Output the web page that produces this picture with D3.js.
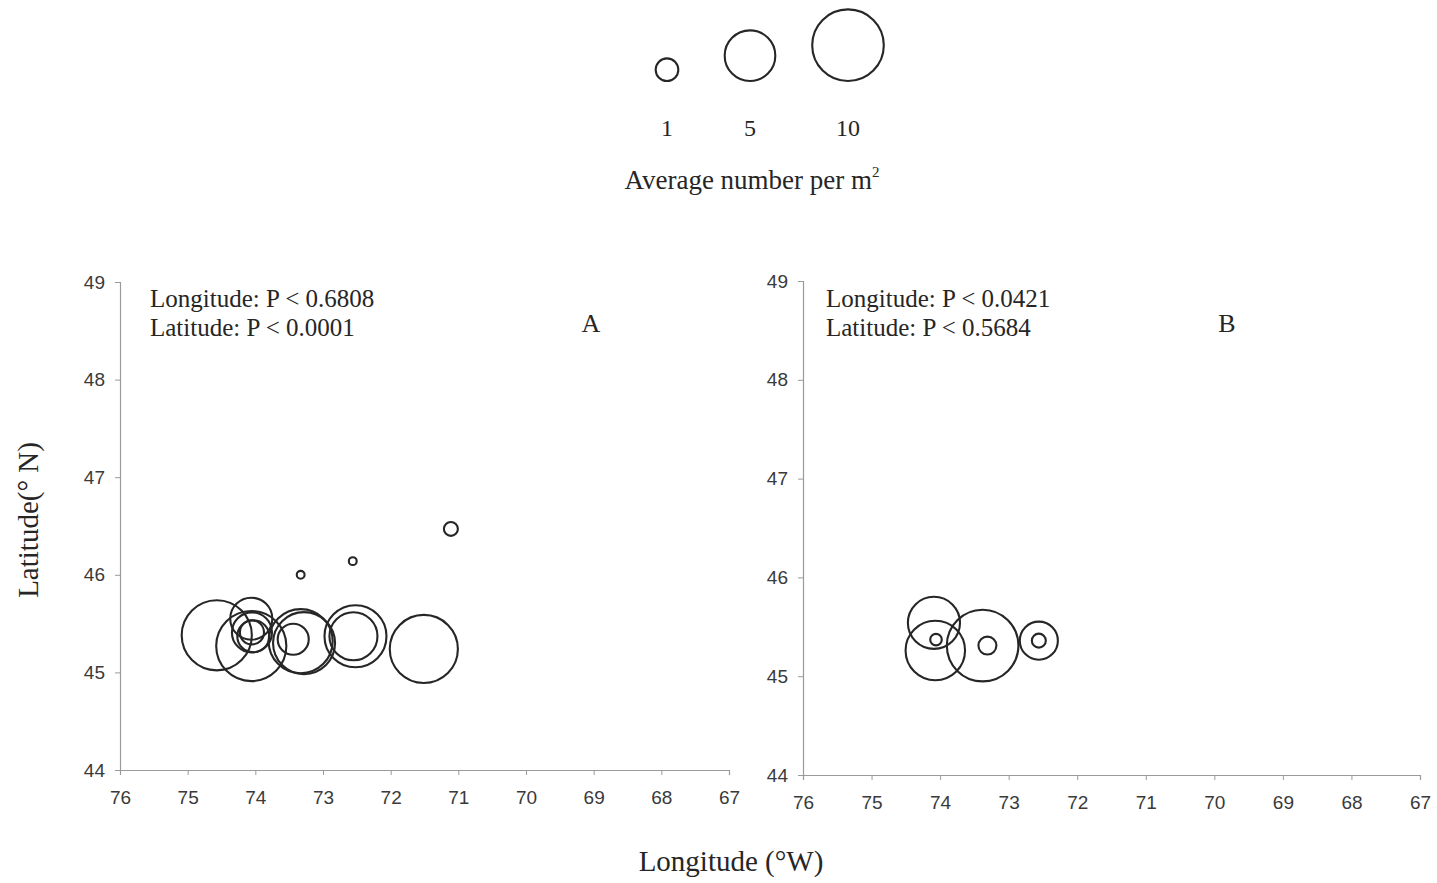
<!DOCTYPE html>
<html>
<head>
<meta charset="utf-8">
<script src="https://cdn.jsdelivr.net/npm/d3@7"></script>
<style>
  html, body { margin: 0; padding: 0; background: #fff; }
  svg { display: block; }
</style>
</head>
<body>
<script>
// Sampling sites: longitude (°W), latitude (°N), average number per m²
const siteLonA = [71.11, 72.56, 73.33, 74.57, 74.06, 74.06, 74.05, 74.03, 74.05, 73.33, 73.28, 73.44, 72.52, 72.55, 71.51];
const siteLatA = [46.47, 46.14, 46.00, 45.38, 45.27, 45.55, 45.41, 45.37, 45.41, 45.32, 45.30, 45.34, 45.37, 45.37, 45.24];
const densityA = [0.38, 0.12, 0.12, 9.6, 9.6, 3.45, 3.13, 2.0, 1.13, 8.0, 7.5, 1.88, 7.5, 4.5, 9.05];

const siteLonB = [74.09, 74.07, 74.06, 73.38, 73.31, 72.56, 72.56];
const siteLatB = [45.54, 45.26, 45.37, 45.31, 45.31, 45.36, 45.36];
const densityB = [5.3, 6.9, 0.26, 10.0, 0.63, 2.83, 0.38];

const lonTicks = [76, 75, 74, 73, 72, 71, 70, 69, 68, 67];
const latTicks = [44, 45, 46, 47, 48, 49];
const legendValues = [1, 5, 10];
const statsA = ["Longitude: P < 0.6808", "Latitude: P < 0.0001"];
const statsB = ["Longitude: P < 0.0421", "Latitude: P < 0.5684"];

const W = 1437, H = 883;
const serif = "'Liberation Serif', 'Times New Roman', serif";
const sans = "'Liberation Sans', Arial, sans-serif";
const ink = "#262626";

const svg = d3.select("body").append("svg").attr("width", W).attr("height", H);

// bubble area proportional to density
const rScale = d3.scaleSqrt().domain([0, 10]).range([0, 35.8]);

// ---- size legend ----
const legend = svg.append("g");
const legendX = [667, 750, 848];
const legendBottom = 81;
legend.selectAll("circle").data(legendValues).join("circle")
  .attr("cx", (d, i) => legendX[i])
  .attr("cy", d => legendBottom - rScale(d))
  .attr("r", d => rScale(d))
  .attr("fill", "none").attr("stroke", ink).attr("stroke-width", 2.1);
legend.selectAll("text.val").data(legendValues).join("text")
  .attr("class", "val")
  .attr("x", (d, i) => legendX[i]).attr("y", 136)
  .attr("text-anchor", "middle")
  .attr("font-family", serif).attr("font-size", 24).attr("fill", ink)
  .text(d => d);
const lt = legend.append("text")
  .attr("x", 752).attr("y", 189).attr("text-anchor", "middle")
  .attr("font-family", serif).attr("font-size", 27).attr("fill", ink);
lt.append("tspan").text("Average number per m");
lt.append("tspan").attr("dy", -12).attr("font-size", 15).text("2");

// ---- panels ----
function panel(cfg) {
  const x = d3.scaleLinear().domain([76, 67]).range([cfg.left, cfg.right]);
  const y = d3.scaleLinear().domain([44, 49]).range([cfg.bottom, cfg.top]);
  const g = svg.append("g");

  const xAxis = g.append("g").attr("transform", `translate(0,${cfg.bottom})`)
    .call(d3.axisBottom(x).tickValues(lonTicks).tickSize(5).tickPadding(16).tickFormat(d3.format("d")));
  const yAxis = g.append("g").attr("transform", `translate(${cfg.left},0)`)
    .call(d3.axisLeft(y).tickValues(latTicks).tickSize(5).tickPadding(10).tickFormat(d3.format("d")));
  [xAxis, yAxis].forEach(a => {
    a.select(".domain").attr("stroke", "#9a9a9a").attr("stroke-width", 1.2);
    a.selectAll(".tick line").attr("stroke", "#9a9a9a");
    a.selectAll(".tick text").attr("font-family", sans).attr("font-size", 19).attr("fill", "#3a3a3a");
  });

  const pts = cfg.lon.map((d, i) => ({ lon: d, lat: cfg.lat[i], v: cfg.val[i] }));
  g.append("g").selectAll("circle").data(pts).join("circle")
    .attr("cx", d => x(d.lon)).attr("cy", d => y(d.lat))
    .attr("r", d => rScale(d.v))
    .attr("fill", "none").attr("stroke", ink).attr("stroke-width", 2.1);

  g.append("g").selectAll("text").data(cfg.stats).join("text")
    .attr("x", cfg.statsX).attr("y", (d, i) => 307 + i * 29)
    .attr("font-family", serif).attr("font-size", 25).attr("fill", ink)
    .text(d => d);

  g.append("text").attr("x", cfg.tagX).attr("y", 332).attr("text-anchor", "middle")
    .attr("font-family", serif).attr("font-size", 26).attr("fill", ink).text(cfg.tag);
}

panel({ left: 120, right: 729, top: 282, bottom: 770, lon: siteLonA, lat: siteLatA, val: densityA, stats: statsA, statsX: 150, tag: "A", tagX: 591 });
panel({ left: 803, right: 1420, top: 281, bottom: 775, lon: siteLonB, lat: siteLatB, val: densityB, stats: statsB, statsX: 826, tag: "B", tagX: 1227 });

// ---- axis titles ----
svg.append("text").attr("x", 731).attr("y", 871).attr("text-anchor", "middle")
  .attr("font-family", serif).attr("font-size", 29).attr("fill", ink).text("Longitude (°W)");
svg.append("text").attr("transform", "translate(38,520) rotate(-90)").attr("text-anchor", "middle")
  .attr("font-family", serif).attr("font-size", 29).attr("fill", ink).text("Latitude(° N)");
</script>
</body>
</html>
